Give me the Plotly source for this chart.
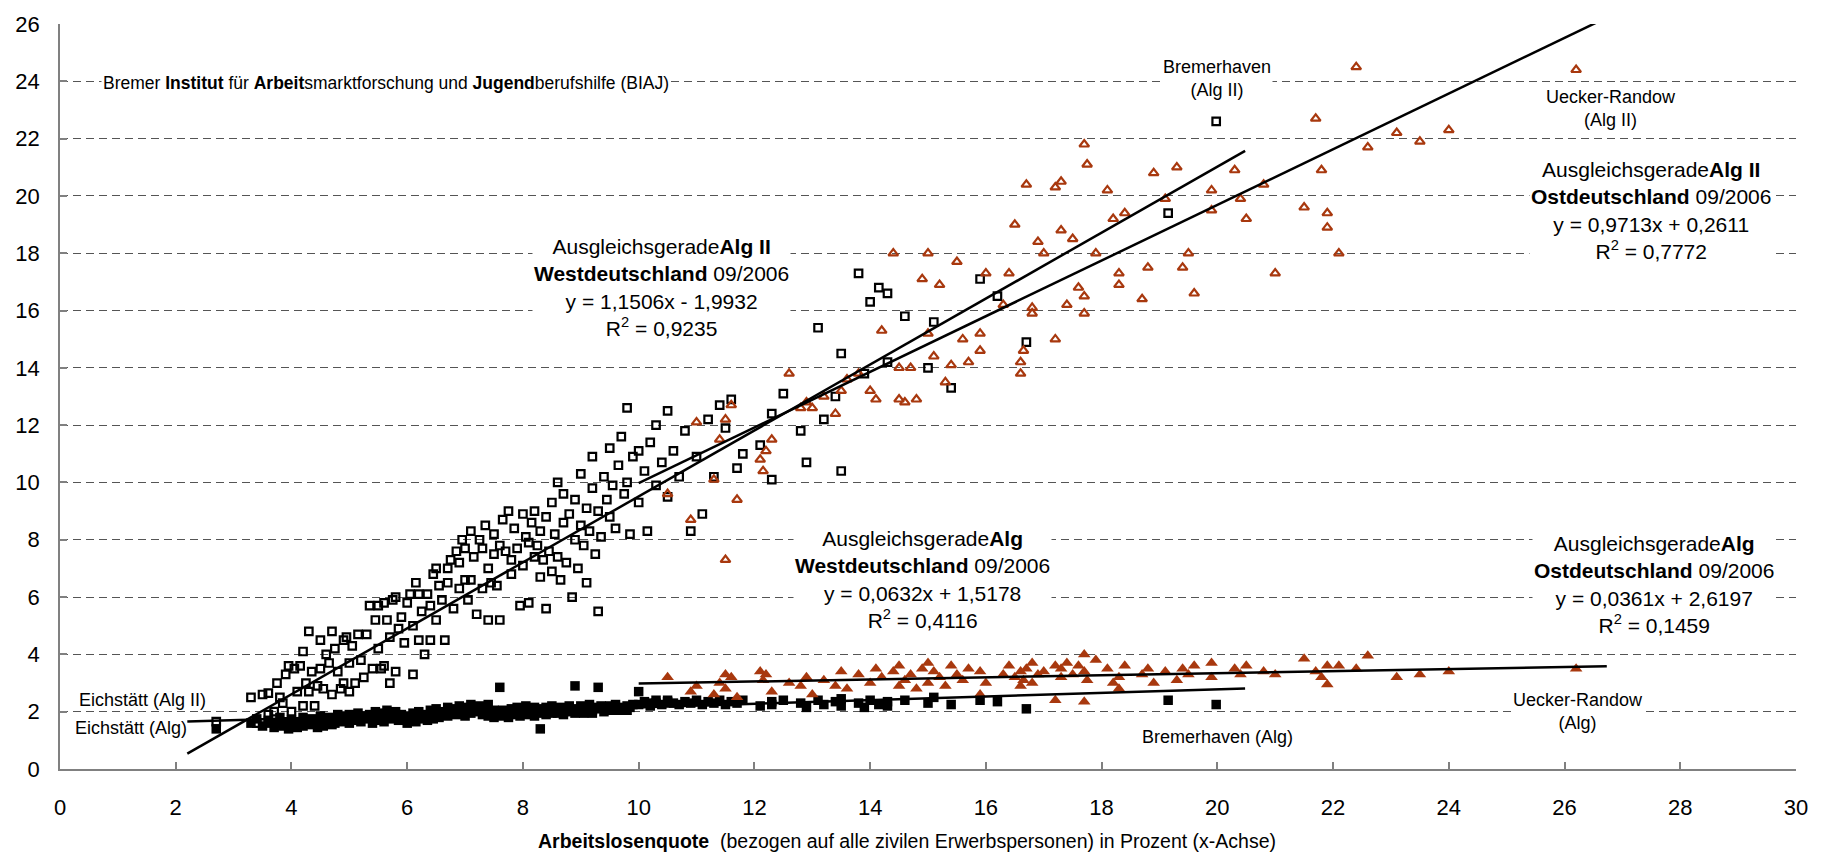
import plotly.graph_objects as go

# ---------------- data ----------------
# West German districts: unemployment rate, Alg II rate, Alg rate
west_x = [
    2.7, 3.3, 3.4, 3.5, 3.6, 3.6, 3.7, 3.75, 3.8, 3.85,
    3.9, 3.95, 4.0, 4.05, 4.1, 4.15, 4.2, 4.2, 4.25, 4.3,
    4.3, 4.35, 4.4, 4.45, 4.5, 4.5, 4.55, 4.6, 4.65, 4.7,
    4.7, 4.75, 4.8, 4.85, 4.9, 4.9, 4.95, 5.0, 5.0, 5.05,
    5.1, 5.15, 5.2, 5.25, 5.3, 5.35, 5.4, 5.45, 5.5, 5.5,
    5.55, 5.6, 5.6, 5.65, 5.7, 5.7, 5.75, 5.8, 5.8, 5.85,
    5.9, 5.95, 6.0, 6.05, 6.1, 6.1, 6.15, 6.2, 6.2, 6.25,
    6.3, 6.35, 6.4, 6.4, 6.45, 6.5, 6.5, 6.55, 6.6, 6.65,
    6.7, 6.7, 6.75, 6.8, 6.85, 6.9, 6.9, 6.95, 7.0, 7.0,
    7.05, 7.1, 7.1, 7.15, 7.2, 7.25, 7.3, 7.3, 7.35, 7.4,
    7.4, 7.45, 7.5, 7.5, 7.55, 7.6, 7.6, 7.65, 7.7, 7.75,
    7.8, 7.8, 7.85, 7.9, 7.95, 8.0, 8.0, 8.05, 8.1, 8.1,
    8.15, 8.2, 8.2, 8.25, 8.3, 8.3, 8.35, 8.4, 8.4, 8.45,
    8.5, 8.5, 8.55, 8.6, 8.6, 8.65, 8.7, 8.7, 8.75, 8.8,
    8.85, 8.9, 8.9, 8.95, 9.0, 9.0, 9.05, 9.1, 9.1, 9.15,
    9.2, 9.2, 9.25, 9.3, 9.3, 9.35, 9.4, 9.45, 9.5, 9.5,
    9.55, 9.6, 9.65, 9.7, 9.75, 9.8, 9.8, 9.85, 9.9, 10.0,
    10.0, 10.1, 10.15, 10.2, 10.3, 10.3, 10.4, 10.5, 10.5, 10.6,
    10.7, 10.8, 10.9, 11.0, 11.1, 11.2, 11.3, 11.4, 11.5, 11.6,
    11.7, 11.8, 12.1, 12.3, 12.3, 12.5, 12.8, 12.9, 13.1, 13.2,
    13.4, 13.5, 13.5, 13.8, 13.9, 14.0, 14.15, 14.3, 14.3, 14.6,
    15.0, 15.1, 15.4, 15.9, 16.2, 16.7, 19.15, 19.98,
]
west_alg2 = [
    1.65, 2.5, 1.6, 2.6, 1.9, 2.65, 2.0, 3.0, 2.5, 2.3,
    3.3, 3.6, 2.0, 3.5, 2.7, 3.6, 4.1, 2.2, 3.0, 4.8,
    2.7, 3.4, 2.2, 2.9, 4.5, 3.5, 2.8, 4.0, 3.7, 4.8,
    2.6, 4.2, 3.4, 2.8, 4.5, 3.0, 4.6, 3.7, 2.7, 4.3,
    3.0, 4.7, 3.8, 3.2, 4.7, 5.7, 3.5, 5.2, 5.7, 4.2,
    3.5, 5.8, 3.6, 5.2, 3.0, 4.6, 5.9, 3.4, 6.0, 4.9,
    5.3, 4.4, 5.8, 6.1, 3.3, 5.0, 6.5, 4.5, 6.1, 5.5,
    4.0, 6.1, 4.5, 5.7, 6.8, 5.2, 7.0, 6.4, 5.9, 4.5,
    7.0, 6.5, 7.3, 5.6, 7.6, 6.3, 7.2, 8.0, 7.7, 6.6,
    5.9, 6.6, 8.3, 7.4, 5.4, 8.0, 6.3, 7.7, 8.5, 5.2,
    7.0, 6.5, 8.2, 7.5, 6.4, 5.2, 7.8, 8.7, 7.6, 9.0,
    6.8, 7.3, 8.4, 7.7, 5.7, 8.9, 7.1, 8.1, 7.9, 5.8,
    8.6, 7.4, 9.0, 7.8, 6.7, 8.3, 7.3, 8.8, 5.6, 7.6,
    6.9, 9.3, 8.2, 10.0, 7.4, 6.6, 8.6, 9.6, 7.2, 8.9,
    6.0, 8.0, 9.4, 7.0, 8.5, 10.3, 7.8, 9.1, 6.5, 8.3,
    9.8, 10.9, 7.5, 5.5, 9.0, 8.1, 10.2, 9.4, 8.8, 11.2,
    9.9, 8.4, 10.6, 11.6, 9.6, 12.6, 10.0, 8.2, 10.9, 9.3,
    11.1, 10.4, 8.3, 11.4, 9.9, 12.0, 10.7, 12.5, 9.5, 11.1,
    10.2, 11.8, 8.3, 10.9, 8.9, 12.2, 10.2, 12.7, 11.9, 12.9,
    10.5, 11.0, 11.3, 12.4, 10.1, 13.1, 11.8, 10.7, 15.4, 12.2,
    13.0, 14.5, 10.4, 17.3, 13.8, 16.3, 16.8, 14.2, 16.6, 15.8,
    14.0, 15.6, 13.3, 17.1, 16.5, 14.9, 19.4, 22.6,
]
west_alg = [
    1.4, 1.6, 1.75, 1.5, 1.6, 1.7, 1.45, 1.6, 1.8, 1.5,
    1.65, 1.4, 1.7, 1.55, 1.45, 1.65, 1.5, 1.8, 1.6, 1.7,
    1.55, 1.75, 1.6, 1.45, 1.85, 1.7, 1.5, 1.65, 1.8, 1.55,
    1.75, 1.6, 1.9, 1.7, 1.85, 1.65, 1.75, 1.9, 1.6, 1.8,
    1.7, 1.95, 1.65, 1.85, 1.75, 1.9, 1.6, 2.0, 1.8, 1.7,
    1.95, 1.85, 1.65, 2.05, 1.8, 1.9, 1.75, 2.0, 1.85, 1.7,
    1.9, 1.75, 1.6, 1.85, 1.7, 1.95, 1.65, 1.8, 2.0, 1.75,
    1.9, 1.7, 2.05, 1.85, 1.75, 1.95, 2.1, 1.8, 2.0, 1.9,
    2.15, 1.85, 2.0, 2.1, 1.9, 2.2, 1.95, 2.05, 1.85, 2.15,
    2.0, 2.25, 1.95, 2.1, 2.0, 2.2, 1.9, 2.1, 2.05, 2.25,
    1.85, 2.0, 1.8, 2.05, 1.95, 2.85, 1.85, 2.05, 2.0, 1.8,
    2.1, 1.9, 2.0, 2.15, 1.85, 2.05, 1.95, 2.2, 1.9, 2.1,
    2.0, 1.85, 2.15, 1.95, 1.4, 2.1, 2.0, 1.9, 2.15, 2.05,
    1.95, 2.2, 2.0, 2.1, 1.95, 2.15, 2.0, 1.9, 2.1, 2.2,
    2.0, 2.9, 1.95, 2.1, 2.0, 2.2, 1.95, 2.15, 2.05, 2.25,
    2.05, 1.95, 2.15, 2.85, 2.1, 2.2, 2.0, 2.15, 2.05, 2.2,
    2.1, 2.25, 2.05, 2.15, 2.1, 2.2, 2.05, 2.15, 2.25, 2.7,
    2.25, 2.35, 2.3, 2.2, 2.4, 2.3, 2.25, 2.35, 2.4, 2.3,
    2.25, 2.35, 2.3, 2.4, 2.25, 2.35, 2.3, 2.4, 2.25, 2.35,
    2.3, 2.4, 2.2, 2.35, 2.25, 2.4, 2.3, 2.15, 2.4, 2.25,
    2.35, 2.2, 2.45, 2.3, 2.15, 2.4, 2.25, 2.35, 2.2, 2.4,
    2.3, 2.5, 2.25, 2.4, 2.35, 2.1, 2.4, 2.25,
]

# East German districts: unemployment rate, Alg II rate, Alg rate
ost_x = [
    10.5, 10.9, 11.0, 11.3, 11.4, 11.5, 11.5, 11.6, 11.7, 12.1,
    12.15, 12.2, 12.3, 12.6, 12.8, 12.9, 13.0, 13.2, 13.4, 13.5,
    13.6, 13.8, 14.0, 14.1, 14.2, 14.4, 14.5, 14.5, 14.6, 14.7,
    14.8, 14.9, 15.0, 15.0, 15.1, 15.2, 15.3, 15.4, 15.5, 15.6,
    15.7, 15.9, 15.9, 16.0, 16.3, 16.4, 16.5, 16.6, 16.6, 16.65,
    16.7, 16.8, 16.8, 16.9, 17.0, 17.2, 17.2, 17.3, 17.3, 17.4,
    17.5, 17.6, 17.7, 17.7, 17.75, 17.7, 17.9, 18.1, 18.2, 18.3,
    18.3, 18.4, 18.7, 18.8, 18.9, 19.1, 19.3, 19.4, 19.5, 19.6,
    19.9, 19.9, 20.3, 20.4, 20.5, 20.8, 21.0, 21.5, 21.7, 21.8,
    21.9, 21.9, 22.1, 22.4, 22.6, 23.1, 23.5, 24.0, 26.2,
]
ost_alg2 = [
    9.6, 8.7, 12.1, 10.1, 11.5, 7.3, 12.2, 12.7, 9.4, 10.8,
    10.4, 11.1, 11.5, 13.8, 12.6, 12.8, 12.6, 13.0, 12.4, 13.2,
    13.6, 13.8, 13.2, 12.9, 15.3, 18.0, 14.0, 12.9, 12.8, 14.0,
    12.9, 17.1, 18.0, 15.2, 14.4, 16.9, 13.5, 14.1, 17.7, 15.0,
    14.2, 14.6, 15.2, 17.3, 16.2, 17.3, 19.0, 14.2, 13.8, 14.6,
    20.4, 16.1, 15.9, 18.4, 18.0, 20.3, 15.0, 20.5, 18.8, 16.2,
    18.5, 16.8, 16.5, 21.8, 21.1, 15.9, 18.0, 20.2, 19.2, 17.3,
    16.9, 19.4, 16.4, 17.5, 20.8, 19.9, 21.0, 17.5, 18.0, 16.6,
    20.2, 19.5, 20.9, 19.9, 19.2, 20.4, 17.3, 19.6, 22.7, 20.9,
    19.4, 18.9, 18.0, 24.5, 21.7, 22.2, 21.9, 22.3, 24.4,
]
ost_alg = [
    3.2, 2.7, 2.9, 2.6, 3.0, 3.3, 2.8, 3.2, 2.5, 3.4,
    3.1, 3.3, 2.7, 3.0, 2.9, 3.2, 2.6, 3.1, 2.9, 3.4,
    2.8, 3.3, 3.0, 3.5, 3.2, 3.4, 2.9, 3.6, 3.1, 3.3,
    2.8, 3.5, 3.7, 3.0, 3.4, 3.2, 2.9, 3.6, 3.3, 3.1,
    3.5, 2.6, 3.4, 3.0, 3.3, 3.6, 3.2, 2.9, 3.4, 3.1,
    3.5, 3.0, 3.7, 3.3, 3.4, 3.6, 2.4, 3.5, 3.2, 3.7,
    3.3, 3.6, 4.0, 3.4, 3.1, 2.35, 3.8, 3.5, 3.0, 3.2,
    2.8, 3.6, 3.3, 3.5, 3.0, 3.4, 3.1, 3.5, 3.3, 3.6,
    3.2, 3.7, 3.5, 3.3, 3.6, 3.4, 3.3, 3.85, 3.4, 3.2,
    3.6, 2.95, 3.6, 3.5, 3.95, 3.2, 3.3, 3.4, 3.5,
]

# Trend lines (coefficients printed on the chart) and their x extents
trend_slope = [1.1506, 0.0632, 0.9713, 0.0361]
trend_intercept = [-1.9932, 1.5178, 0.2611, 2.6197]
trend_x_start = [2.2, 2.2, 10.0, 10.0]
trend_x_end = [20.48, 20.48, 26.73, 26.73]

x_ticks = list(range(0, 31, 2))
y_ticks = list(range(0, 27, 2))

# ---------------- styling ----------------
FONT = "Liberation Sans, Arial, sans-serif"
RED = "#A8380E"

fig = go.Figure()

fig.add_trace(go.Scatter(
    x=west_x, y=west_alg, mode="markers",
    marker=dict(symbol="square", size=9.5, color="black"),
))
fig.add_trace(go.Scatter(
    x=ost_x, y=ost_alg, mode="markers",
    marker=dict(symbol="triangle-up", size=11, color=RED),
))
fig.add_trace(go.Scatter(
    x=west_x, y=west_alg2, mode="markers",
    marker=dict(symbol="square-open", size=7.5, color="black", line=dict(width=2.2)),
))
fig.add_trace(go.Scatter(
    x=ost_x, y=ost_alg2, mode="markers",
    marker=dict(symbol="triangle-up-open", size=8.5, color=RED, line=dict(width=2.2)),
))

for s, b, x0, x1 in zip(trend_slope, trend_intercept, trend_x_start, trend_x_end):
    fig.add_trace(go.Scatter(
        x=[x0, x1], y=[s * x0 + b, s * x1 + b], mode="lines",
        line=dict(color="black", width=2.5),
    ))

def ann(x, y, text, size=21, xanchor="center", bg="white"):
    return dict(x=x, y=y, xref="x", yref="y", text=text, showarrow=False,
                xanchor=xanchor, yanchor="middle", align="center",
                font=dict(family=FONT, size=size, color="black"),
                bgcolor=bg, borderpad=1)

annotations = [
    ann(0.7, 23.93,
        "Bremer <b>Institut</b> für <b>Arbeit</b>smarktforschung und <b>Jugend</b>berufshilfe (BIAJ)",
        size=17.5, xanchor="left"),
    ann(20.0, 24.1, "Bremerhaven<br>(Alg II)", size=18),
    ann(26.8, 23.05, "Uecker-Randow<br>(Alg II)", size=18),
    ann(27.5, 19.48,
        "Ausgleichsgerade<b>Alg II</b><br><b>Ostdeutschland</b> 09/2006<br>"
        "y = 0,9713x + 0,2611<br>R<sup>2</sup> = 0,7772"),
    ann(10.4, 16.8,
        "Ausgleichsgerade<b>Alg II</b><br><b>Westdeutschland</b> 09/2006<br>"
        "y = 1,1506x - 1,9932<br>R<sup>2</sup> = 0,9235"),
    ann(14.9, 6.62,
        "Ausgleichsgerade<b>Alg</b><br><b>Westdeutschland</b> 09/2006<br>"
        "y = 0,0632x + 1,5178<br>R<sup>2</sup> = 0,4116"),
    ann(27.55, 6.45,
        "Ausgleichsgerade<b>Alg</b><br><b>Ostdeutschland</b> 09/2006<br>"
        "y = 0,0361x + 2,6197<br>R<sup>2</sup> = 0,1459"),
    ann(0.29, 2.4, "Eichstätt (Alg II)", size=18, xanchor="left", bg="rgba(0,0,0,0)"),
    ann(0.22, 1.42, "Eichstätt (Alg)", size=18, xanchor="left", bg="rgba(0,0,0,0)"),
    ann(20.0, 1.12, "Bremerhaven (Alg)", size=18),
    ann(26.23, 2.02, "Uecker-Randow<br>(Alg)", size=18),
    dict(x=0.488, y=-0.097, xref="paper", yref="paper", showarrow=False,
         xanchor="center", yanchor="middle",
         text="<b>Arbeitslosenquote</b>&nbsp; (bezogen auf alle zivilen Erwerbspersonen) in Prozent (x-Achse)",
         font=dict(family=FONT, size=19.5, color="black")),
]

fig.update_layout(
    width=1823, height=852, autosize=False,
    margin=dict(l=60, r=27, t=21, b=83),
    plot_bgcolor="white", paper_bgcolor="white",
    showlegend=False,
    font=dict(family=FONT, color="black"),
    annotations=annotations,
)
fig.update_xaxes(
    range=[0, 30], tickmode="array", tickvals=x_ticks, ticktext=[str(v) for v in x_ticks],
    showline=True, linecolor="#808080", linewidth=1.5,
    ticks="inside", ticklen=7, tickcolor="#808080", tickwidth=1.5,
    showgrid=False, zeroline=False,
    tickfont=dict(family=FONT, size=22, color="black"), ticklabelstandoff=18,
)
fig.update_yaxes(
    range=[0, 26], tickmode="array", tickvals=y_ticks, ticktext=[str(v) for v in y_ticks],
    showline=True, linecolor="#808080", linewidth=1.5,
    ticks="inside", ticklen=7, tickcolor="#808080", tickwidth=1.5,
    showgrid=True, gridcolor="#555555", gridwidth=1, griddash="8px,5px",
    zeroline=False,
    tickfont=dict(family=FONT, size=22, color="black"), ticklabelstandoff=14,
)

fig.write_html("out.html", config={"displayModeBar": False},
               post_script="document.body.style.margin='0px';")
